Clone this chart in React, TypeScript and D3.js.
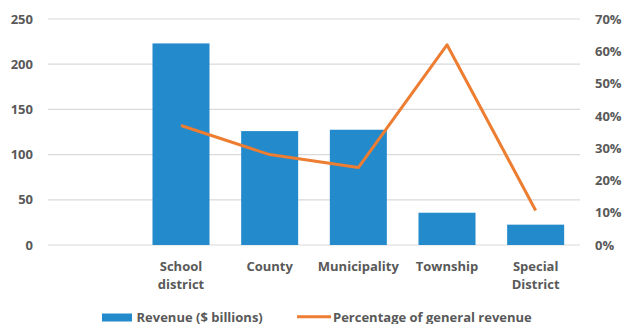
import React from "react";
import * as d3 from "d3";

const categories: string[][] = [[""], ["School", "district"], ["County"], ["Municipality"], ["Township"], ["Special", "District"]];
const revenue: (number | null)[] = [null, 223, 126, 127.5, 35.7, 22.5];
const percentage: (number | null)[] = [null, 0.37, 0.28, 0.24, 0.62, 0.107];
const leftTicks = [0, 50, 100, 150, 200, 250];
const rightTicks = [0, 0.1, 0.2, 0.3, 0.4, 0.5, 0.6, 0.7];
const seriesNames = ["Revenue ($ billions)", "Percentage of general revenue"];

const W = 625, H = 324;
const left = 48, right = 580, top = 19, bottom = 245;
const BLUE = "#238ACB";
const ORANGE = "#ED7D31";
const TEXT = "#595959";
const FONT = "'Open Sans', 'DejaVu Sans', sans-serif";

export default function App() {
  const idx = categories.map((_, i) => String(i));
  const x = d3.scaleBand().domain(idx).range([left, right]).padding(0);
  const bw = x.bandwidth() * 0.643;
  const yL = d3.scaleLinear().domain([0, 250]).range([bottom, top]);
  const yR = d3.scaleLinear().domain([0, 0.7]).range([bottom, top]);
  const cx = (i: number) => (x(String(i)) as number) + x.bandwidth() / 2;

  const linePts = percentage
    .map((v, i) => (v == null ? null : ([cx(i), yR(v)] as [number, number])))
    .filter((p): p is [number, number] => p !== null);
  const lineGen = d3.line();

  return (
    <svg width={W} height={H} style={{ position: "absolute", left: 0, top: 0, background: "#fff" }} fontFamily={FONT}>
      {leftTicks.map((t) => (
        <line key={"g" + t} x1={left} x2={right} y1={yL(t)} y2={yL(t)} stroke="#D9D9D9" strokeWidth={1.2} />
      ))}
      {leftTicks.map((t) => (
        <text key={"l" + t} x={33} y={yL(t)} dy="0.36em" textAnchor="end" fontSize={13} fontWeight={700} fill={TEXT}>
          {t}
        </text>
      ))}
      {rightTicks.map((t) => (
        <text key={"r" + t} x={595} y={yR(t)} dy="0.36em" textAnchor="start" fontSize={13} fontWeight={700} fill={TEXT}>
          {d3.format(".0%")(t)}
        </text>
      ))}
      {revenue.map((v, i) =>
        v == null ? null : (
          <rect key={"b" + i} x={cx(i) - bw / 2} y={yL(v)} width={bw} height={yL(0) - yL(v)} fill={BLUE} />
        )
      )}
      <path d={lineGen(linePts) || ""} fill="none" stroke={ORANGE} strokeWidth={3} strokeLinejoin="round" />
      {categories.map((lines, i) =>
        lines.map((ln, j) => (
          <text key={"c" + i + j} x={cx(i)} y={266 + j * 18} dy="0.36em" textAnchor="middle" fontSize={13} fontWeight={700} fill={TEXT}>
            {ln}
          </text>
        ))
      )}
      <rect x={102} y={313.5} width={30} height={8} fill={BLUE} />
      <text x={136.5} y={317.2} dy="0.36em" fontSize={13} fontWeight={700} fill={TEXT}>
        {seriesNames[0]}
      </text>
      <line x1={297} x2={331} y1={316.8} y2={316.8} stroke={ORANGE} strokeWidth={3} />
      <text x={333} y={317.2} dy="0.36em" fontSize={13} fontWeight={700} fill={TEXT}>
        {seriesNames[1]}
      </text>
    </svg>
  );
}
